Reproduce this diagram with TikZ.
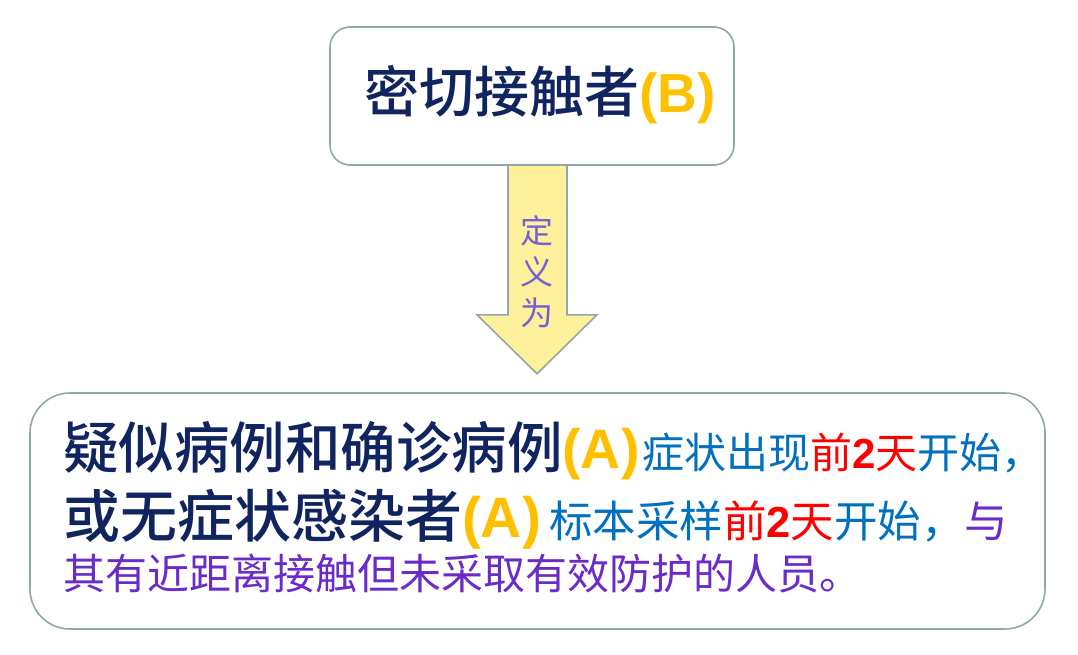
\documentclass[tikz,border=0pt]{standalone}
\usepackage{fontspec}
\setmainfont{Liberation Sans}
\newfontfamily\cjk{Noto Sans CJK SC}
\newfontfamily\cjkm{Noto Sans CJK SC Medium}
\newfontfamily\lat{Liberation Sans}
\usetikzlibrary{backgrounds,calc}
\definecolor{navy}{HTML}{10245F}
\definecolor{gold}{HTML}{FFC000}
\definecolor{sblue}{HTML}{0070C0}
\definecolor{sred}{HTML}{FF0000}
\definecolor{spurple}{HTML}{6A2BC8}
\definecolor{lblpurple}{HTML}{7462D4}
\definecolor{edgegray}{HTML}{91A8A8}
\definecolor{arrowfill}{HTML}{FFF09C}
\newcommand\fsz[1]{\fontsize{#1}{#1}\selectfont}
\newcommand\bigcjk[2]{{\fsz{#1}\cjkm\color{navy}#2}}
\newcommand\tagA[2]{{\fsz{#1}\lat\bfseries\color{gold}#2}}
\newcommand\twoB{{\lat\bfseries 2}}
\tikzset{
  box/.style={draw=edgegray, line width=1.6pt, fill=white, inner sep=0pt},
  linetext/.style={anchor=base west, inner sep=0pt, outer sep=0pt},
}
\begin{document}
\begin{tikzpicture}[x=1pt,y=-1pt]
\useasboundingbox (0,0) rectangle (1078,655);
% top box
\node[box, rounded corners=20pt, minimum width=404pt, minimum height=138pt] (top) at (532,96) {};
\node[linetext] (toptext) at (364,113) {\bigcjk{55}{密切接触者}\tagA{55}{(B)}};
% bottom box
\node[box, rounded corners=40pt, minimum width=1015pt, minimum height=236pt] (bottom) at (537.5,511) {};
% block arrow
\begin{scope}[on background layer]
\fill[white] (0,0) rectangle (1078,655);
\coordinate (tip) at ($(top.south)+(5,208)$);
\fill[arrowfill] ($(top.south)+(-24,0)$) -- ++(0,149) -- ++(-31,0) -- (tip) -- ($(top.south)+(65,149)$) -- ($(top.south)+(35,149)$) -- ($(top.south)+(35,0)$) -- cycle;
\draw[edgegray, line width=1.6pt, line join=miter] ($(top.south)+(-24,0)$) -- ++(0,149) -- ++(-31,0) -- (tip) -- ($(top.south)+(65,149)$) -- ($(top.south)+(35,149)$) -- ($(top.south)+(35,0)$);
\end{scope}
\node[inner sep=0pt, align=center, text=lblpurple, font={\fsz{33}\cjk}] (lbl) at (537,272) {定\\[8pt]义\\[8pt]为};
% text lines
\node[linetext] (l1) at (63,468) {\bigcjk{55.5}{疑似病例和确诊病例}\tagA{55.5}{(A)}{\fsz{42}\cjk\color{sblue}\hspace{3pt}症状出现{\color{sred}前\twoB 天}开始，}};
\node[linetext] (l2) at (63,537) {\bigcjk{57}{或无症状感染者}\tagA{57}{(A)}{\fsz{43.5}\cjk\color{sblue}\hspace{8pt}标本采样{\color{sred}前\twoB 天}开始，{\color{spurple}与}}};
\node[linetext] (l3) at (63,589) {{\fsz{42}\cjk\color{spurple}其有近距离接触但未采取有效防护的人员。}};
\end{tikzpicture}
\end{document}
